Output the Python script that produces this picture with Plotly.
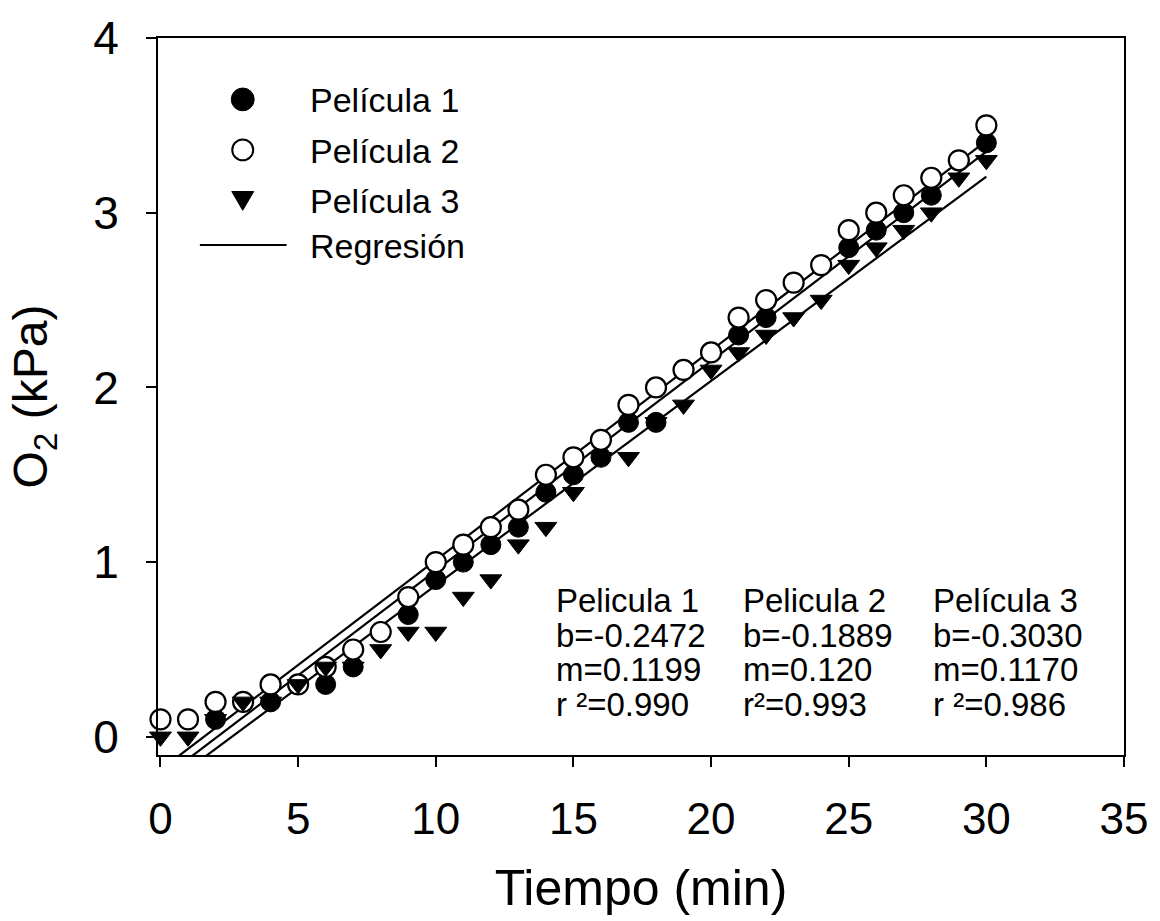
import plotly.graph_objects as go

# ---------------- data ----------------
time_min = list(range(31))
pelicula1 = [0.1, 0.1, 0.1, 0.2, 0.2, 0.3, 0.3, 0.4, 0.6, 0.7,
             0.9, 1.0, 1.1, 1.2, 1.4, 1.5, 1.6, 1.8, 1.8, 2.1,
             2.2, 2.3, 2.4, 2.6, 2.7, 2.8, 2.9, 3.0, 3.1, 3.3, 3.4]
pelicula2 = [0.1, 0.1, 0.2, 0.2, 0.3, 0.3, 0.4, 0.5, 0.6, 0.8,
             1.0, 1.1, 1.2, 1.3, 1.5, 1.6, 1.7, 1.9, 2.0, 2.1,
             2.2, 2.4, 2.5, 2.6, 2.7, 2.9, 3.0, 3.1, 3.2, 3.3, 3.5]
pelicula3 = [0.0, 0.0, 0.1, 0.2, 0.2, 0.3, 0.4, 0.4, 0.5, 0.6,
             0.6, 0.8, 0.9, 1.1, 1.2, 1.4, 1.6, 1.6, 1.8, 1.9,
             2.1, 2.2, 2.3, 2.4, 2.5, 2.7, 2.8, 2.9, 3.0, 3.2, 3.3]
intercepts = [-0.2472, -0.1889, -0.3030]
slopes = [0.1199, 0.120, 0.1170]

legend_labels = ["Película 1", "Película 2", "Película 3", "Regresión"]
stat_headers = ["Pelicula 1", "Pelicula 2", "Película 3"]
stat_b = ["b=-0.2472", "b=-0.1889", "b=-0.3030"]
stat_m = ["m=0.1199", "m=0.120", "m=0.1170"]
stat_r = ["r ²=0.990", "r²=0.993", "r ²=0.986"]

x_ticks = [0, 5, 10, 15, 20, 25, 30, 35]
y_ticks = [0, 1, 2, 3, 4]
x_title = "Tiempo (min)"
y_title = "O<sub>2</sub> (kPa)"

# ---------------- layout geometry (pixels) ----------------
W_FIG, H_FIG = 1160, 921
L, R, T, B = 158, 1127, 31, 755
PW, PH = R - L, B - T
FONT = "Liberation Sans, Arial, Helvetica, sans-serif"


def px(x):
    return (x - L) / PW


def py(y):
    return 1 - (y - T) / PH


fig = go.Figure()

# regression lines
t0, t1 = min(time_min), max(time_min)
reg_x, reg_y = [], []
for b, m in zip(intercepts, slopes):
    reg_x += [t0, t1, None]
    reg_y += [b + m * t0, b + m * t1, None]
fig.add_trace(go.Scatter(x=reg_x, y=reg_y, mode="lines", name=legend_labels[3],
                         line=dict(color="black", width=2.2), showlegend=False))

fig.add_trace(go.Scatter(x=time_min, y=pelicula1, mode="markers", name=legend_labels[0],
                         marker=dict(symbol="circle", size=20, color="black",
                                     line=dict(color="black", width=1)),
                         cliponaxis=False, showlegend=False))
fig.add_trace(go.Scatter(x=time_min, y=pelicula2, mode="markers", name=legend_labels[1],
                         marker=dict(symbol="circle", size=20, color="white",
                                     line=dict(color="black", width=2.2)),
                         cliponaxis=False, showlegend=False))
fig.add_trace(go.Scatter(x=time_min, y=pelicula3, mode="markers", name=legend_labels[2],
                         marker=dict(symbol="triangle-down", size=19, color="black",
                                     line=dict(color="black", width=1)),
                         cliponaxis=False, showlegend=False))

# ---------------- custom legend ----------------
shapes = []
mx = 243
rows = [93, 144, 195, 240]
r = 11.5
shapes.append(dict(type="circle", xref="paper", yref="paper",
                   x0=px(mx - r), x1=px(mx + r), y0=py(rows[0] + r), y1=py(rows[0] - r),
                   fillcolor="black", line=dict(color="black", width=1)))
shapes.append(dict(type="circle", xref="paper", yref="paper",
                   x0=px(mx - 10.5), x1=px(mx + 10.5), y0=py(rows[1] + 10.5), y1=py(rows[1] - 10.5),
                   fillcolor="white", line=dict(color="black", width=2)))
tri = [(mx - 11, rows[2] - 9), (mx + 11, rows[2] - 9), (mx, rows[2] + 10)]
path = "M {} {} L {} {} L {} {} Z".format(px(tri[0][0]), py(tri[0][1]),
                                          px(tri[1][0]), py(tri[1][1]),
                                          px(tri[2][0]), py(tri[2][1]))
shapes.append(dict(type="path", xref="paper", yref="paper", path=path,
                   fillcolor="black", line=dict(color="black", width=1)))
shapes.append(dict(type="line", xref="paper", yref="paper",
                   x0=px(200), x1=px(287), y0=py(rows[3]), y1=py(rows[3]),
                   line=dict(color="black", width=2)))

annotations = []
LEG_FS = 34
for lab, yy in zip(legend_labels, rows):
    annotations.append(dict(text=lab, xref="paper", yref="paper", x=px(308), y=py(yy + 1),
                            xanchor="left", yanchor="middle", showarrow=False,
                            font=dict(family=FONT, size=LEG_FS, color="black")))

# stats table
STAT_FS = 33
col_x = [555, 743, 933]
row_mid = [599, 634, 669, 704]
for cx, h, bb, mm, rr in zip(col_x, stat_headers, stat_b, stat_m, stat_r):
    for txt, mid in zip([h, bb, mm, rr], row_mid):
        annotations.append(dict(text=txt, xref="paper", yref="paper", x=px(cx),
                                y=py(mid),
                                xanchor="left", yanchor="middle", showarrow=False,
                                font=dict(family=FONT, size=STAT_FS, color="black")))

fig.update_layout(
    width=W_FIG, height=H_FIG,
    margin=dict(l=L, r=W_FIG - R, t=T, b=H_FIG - B, pad=0),
    paper_bgcolor="white", plot_bgcolor="white",
    showlegend=False,
    shapes=shapes, annotations=annotations,
    font=dict(family=FONT, color="black"),
)
fig.update_xaxes(range=[-0.09, 35], tickvals=x_ticks, ticktext=[str(v) for v in x_ticks],
                 showgrid=False, zeroline=False, showline=True, mirror=True,
                 linecolor="black", linewidth=2, ticks="outside", ticklen=10,
                 tickwidth=2, tickcolor="black", ticklabelstandoff=14,
                 tickfont=dict(family=FONT, size=44, color="black"),
                 title=dict(text=x_title, font=dict(family=FONT, size=50, color="black"),
                            standoff=28))
fig.update_yaxes(range=[-0.104, 4], tickvals=y_ticks, ticktext=[str(v) for v in y_ticks],
                 showgrid=False, zeroline=False, showline=True, mirror=True,
                 linecolor="black", linewidth=2, ticks="outside", ticklen=10,
                 tickwidth=2, tickcolor="black", ticklabelstandoff=18,
                 tickfont=dict(family=FONT, size=46, color="black"),
                 title=dict(text=y_title, font=dict(family=FONT, size=48, color="black"),
                            standoff=30))

fig.write_html("out.html")
